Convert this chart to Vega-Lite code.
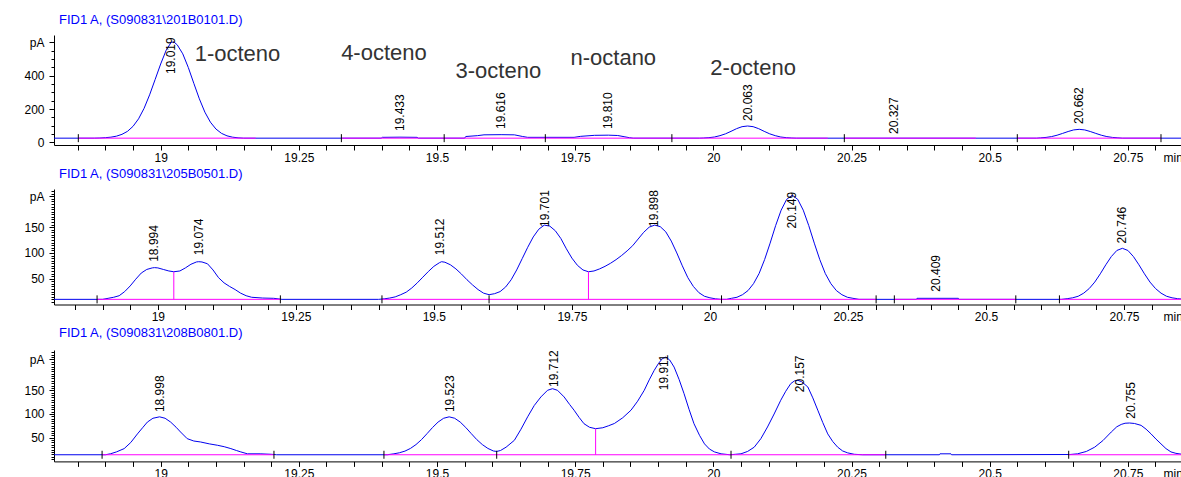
{
"$schema": "https://vega.github.io/schema/vega-lite/v6.json",
"padding": {"left": 23, "top": 13, "right": 0, "bottom": 0},
"background": "white",
"spacing": 4,
"config": {
  "font": "Liberation Sans",
  "view": {"stroke": null},
  "axis": {"grid": false, "domainColor": "#000", "tickColor": "#000", "labelColor": "#000", "labelFontSize": 12, "labelFont": "Liberation Sans", "domainWidth": 1, "tickWidth": 1, "labelOverlap": false, "labelFlush": false, "labelBound": false}
},
"resolve": {"scale": {"x": "independent", "y": "independent"}},
"datasets": {
  "sig1": [
    {"t":18.807,"pA":25},{"t":18.88,"pA":25},{"t":18.89,"pA":26},{"t":18.9,"pA":28},{"t":18.91,"pA":31},{"t":18.92,"pA":37},{"t":18.93,"pA":48},{"t":18.94,"pA":66},{"t":18.95,"pA":96},{"t":18.96,"pA":141},{"t":18.97,"pA":204},{"t":18.98,"pA":285},{"t":18.99,"pA":377},{"t":19.0,"pA":470},{"t":19.01,"pA":553},{"t":19.019,"pA":600},{"t":19.024,"pA":602},{"t":19.03,"pA":585},{"t":19.04,"pA":531},{"t":19.05,"pA":449},{"t":19.06,"pA":354},{"t":19.07,"pA":261},{"t":19.08,"pA":181},{"t":19.09,"pA":121},{"t":19.1,"pA":80},{"t":19.11,"pA":54},{"t":19.12,"pA":39},{"t":19.13,"pA":31},{"t":19.14,"pA":27},{"t":19.15,"pA":25},
    {"t":19.399,"pA":25},{"t":19.401,"pA":30},{"t":19.433,"pA":31},{"t":19.464,"pA":30},{"t":19.466,"pA":25},
    {"t":19.55,"pA":25},{"t":19.552,"pA":35},{"t":19.573,"pA":40},{"t":19.585,"pA":45},{"t":19.616,"pA":46},{"t":19.64,"pA":45},{"t":19.655,"pA":35},{"t":19.664,"pA":30},{"t":19.748,"pA":30},{"t":19.76,"pA":36},{"t":19.785,"pA":42},{"t":19.81,"pA":43},{"t":19.827,"pA":41},{"t":19.84,"pA":33},{"t":19.848,"pA":28},{"t":19.855,"pA":25},
    {"t":19.975,"pA":25},{"t":19.982,"pA":26},{"t":19.992,"pA":28},{"t":20.002,"pA":32},{"t":20.012,"pA":40},{"t":20.022,"pA":51},{"t":20.032,"pA":66},{"t":20.042,"pA":82},{"t":20.052,"pA":94},{"t":20.062,"pA":98},{"t":20.072,"pA":94},{"t":20.082,"pA":82},{"t":20.092,"pA":66},{"t":20.102,"pA":51},{"t":20.112,"pA":40},{"t":20.122,"pA":32},{"t":20.132,"pA":28},{"t":20.142,"pA":26},{"t":20.15,"pA":25},
    {"t":20.585,"pA":25},{"t":20.592,"pA":27},{"t":20.602,"pA":29.5},{"t":20.612,"pA":34.5},{"t":20.622,"pA":42.7},{"t":20.632,"pA":53.6},{"t":20.642,"pA":65},{"t":20.652,"pA":74.5},{"t":20.662,"pA":78},{"t":20.672,"pA":74.5},{"t":20.682,"pA":65},{"t":20.692,"pA":53.6},{"t":20.702,"pA":42.7},{"t":20.712,"pA":34.5},{"t":20.722,"pA":29.5},{"t":20.732,"pA":27},{"t":20.74,"pA":25},{"t":20.848,"pA":25}
  ],
  "sig2": [
    {"t":18.812,"pA":10},{"t":18.9,"pA":10},{"t":18.91,"pA":12},{"t":18.92,"pA":14},{"t":18.93,"pA":17},{"t":18.94,"pA":25},{"t":18.95,"pA":36},{"t":18.96,"pA":49},{"t":18.97,"pA":61},{"t":18.98,"pA":68},{"t":18.99,"pA":71},{"t":18.994,"pA":71.5},{"t":19.0,"pA":71},{"t":19.01,"pA":68},{"t":19.02,"pA":65},{"t":19.029,"pA":63.5},{"t":19.04,"pA":65},{"t":19.05,"pA":71},{"t":19.06,"pA":78},{"t":19.07,"pA":82.5},{"t":19.074,"pA":83},{"t":19.08,"pA":82.5},{"t":19.09,"pA":79},{"t":19.1,"pA":67},{"t":19.11,"pA":52},{"t":19.12,"pA":42},{"t":19.13,"pA":35},{"t":19.14,"pA":29},{"t":19.15,"pA":22},{"t":19.16,"pA":17},{"t":19.17,"pA":14},{"t":19.19,"pA":12.5},{"t":19.21,"pA":12},{"t":19.225,"pA":10},
    {"t":19.4,"pA":10},{"t":19.41,"pA":11},{"t":19.42,"pA":12.5},{"t":19.43,"pA":14.8},{"t":19.44,"pA":19},{"t":19.45,"pA":24},{"t":19.46,"pA":32},{"t":19.47,"pA":42},{"t":19.48,"pA":53},{"t":19.49,"pA":64},{"t":19.5,"pA":74},{"t":19.51,"pA":81},{"t":19.514,"pA":83},{"t":19.52,"pA":82},{"t":19.53,"pA":77},{"t":19.54,"pA":69},{"t":19.55,"pA":59},{"t":19.56,"pA":48},{"t":19.57,"pA":38},{"t":19.58,"pA":29},{"t":19.59,"pA":22},{"t":19.6,"pA":19},{"t":19.61,"pA":21},{"t":19.62,"pA":25},{"t":19.63,"pA":34},{"t":19.64,"pA":48},{"t":19.65,"pA":67},{"t":19.66,"pA":89},{"t":19.67,"pA":111},{"t":19.68,"pA":131},{"t":19.69,"pA":146},{"t":19.7,"pA":154},{"t":19.71,"pA":152},{"t":19.72,"pA":143},{"t":19.73,"pA":128},{"t":19.74,"pA":108},{"t":19.75,"pA":90},{"t":19.76,"pA":76},{"t":19.77,"pA":67},{"t":19.78,"pA":63.5},{"t":19.79,"pA":65},{"t":19.8,"pA":69},{"t":19.81,"pA":74},{"t":19.82,"pA":80},{"t":19.83,"pA":87},{"t":19.84,"pA":95},{"t":19.85,"pA":104},{"t":19.86,"pA":114},{"t":19.87,"pA":127},{"t":19.88,"pA":140},{"t":19.89,"pA":150},{"t":19.9,"pA":154},{"t":19.91,"pA":151},{"t":19.92,"pA":141},{"t":19.93,"pA":123},{"t":19.94,"pA":100},{"t":19.95,"pA":75},{"t":19.96,"pA":52},{"t":19.97,"pA":35},{"t":19.98,"pA":23},{"t":19.99,"pA":16},{"t":20.0,"pA":13},{"t":20.01,"pA":11},{"t":20.02,"pA":10},
    {"t":20.03,"pA":10},{"t":20.039,"pA":12},{"t":20.049,"pA":14},{"t":20.059,"pA":19},{"t":20.069,"pA":27},{"t":20.079,"pA":40.5},{"t":20.089,"pA":60},{"t":20.099,"pA":87},{"t":20.109,"pA":119},{"t":20.119,"pA":153},{"t":20.129,"pA":183},{"t":20.139,"pA":204},{"t":20.149,"pA":212},{"t":20.159,"pA":204},{"t":20.169,"pA":183},{"t":20.179,"pA":153},{"t":20.189,"pA":119},{"t":20.199,"pA":87},{"t":20.209,"pA":60},{"t":20.219,"pA":40.5},{"t":20.229,"pA":27},{"t":20.239,"pA":19},{"t":20.249,"pA":14},{"t":20.259,"pA":12},{"t":20.27,"pA":10},
    {"t":20.374,"pA":10},{"t":20.375,"pA":12},{"t":20.45,"pA":12},{"t":20.451,"pA":10},
    {"t":20.637,"pA":10},{"t":20.647,"pA":11.3},{"t":20.657,"pA":13},{"t":20.667,"pA":16},{"t":20.677,"pA":22},{"t":20.687,"pA":31},{"t":20.697,"pA":43.5},{"t":20.707,"pA":59.5},{"t":20.717,"pA":77},{"t":20.727,"pA":93},{"t":20.737,"pA":104.8},{"t":20.747,"pA":109},{"t":20.757,"pA":104.8},{"t":20.767,"pA":93},{"t":20.777,"pA":77},{"t":20.787,"pA":59.5},{"t":20.797,"pA":43.5},{"t":20.807,"pA":31},{"t":20.817,"pA":22},{"t":20.827,"pA":16},{"t":20.837,"pA":13},{"t":20.847,"pA":11.3},{"t":20.855,"pA":10.5}
  ],
  "sig3": [
    {"t":18.807,"pA":14},{"t":18.9,"pA":14},{"t":18.909,"pA":16},{"t":18.92,"pA":20},{"t":18.934,"pA":27},{"t":18.946,"pA":40},{"t":18.958,"pA":58},{"t":18.968,"pA":72},{"t":18.976,"pA":83},{"t":18.986,"pA":91},{"t":18.998,"pA":94},{"t":19.008,"pA":91},{"t":19.018,"pA":83},{"t":19.028,"pA":72},{"t":19.036,"pA":62},{"t":19.048,"pA":48},{"t":19.06,"pA":43},{"t":19.072,"pA":41},{"t":19.088,"pA":37},{"t":19.103,"pA":34},{"t":19.115,"pA":31},{"t":19.127,"pA":27},{"t":19.137,"pA":23},{"t":19.145,"pA":20},{"t":19.157,"pA":16},{"t":19.18,"pA":16},{"t":19.2,"pA":15},{"t":19.21,"pA":14},
    {"t":19.41,"pA":14},{"t":19.422,"pA":16},{"t":19.432,"pA":18.2},{"t":19.442,"pA":21.7},{"t":19.452,"pA":27.4},{"t":19.462,"pA":35.5},{"t":19.472,"pA":46},{"t":19.482,"pA":58.6},{"t":19.492,"pA":71.6},{"t":19.502,"pA":83},{"t":19.512,"pA":91},{"t":19.522,"pA":94},{"t":19.532,"pA":91},{"t":19.542,"pA":83},{"t":19.552,"pA":71.6},{"t":19.562,"pA":58.6},{"t":19.572,"pA":46},{"t":19.582,"pA":35.5},{"t":19.592,"pA":27.4},{"t":19.602,"pA":22},{"t":19.608,"pA":21},{"t":19.615,"pA":23},{"t":19.625,"pA":30},{"t":19.64,"pA":44.5},{"t":19.652,"pA":68},{"t":19.664,"pA":94},{"t":19.676,"pA":118},{"t":19.688,"pA":136},{"t":19.7,"pA":150},{"t":19.709,"pA":153.4},{"t":19.718,"pA":150},{"t":19.73,"pA":136},{"t":19.74,"pA":120},{"t":19.748,"pA":108},{"t":19.757,"pA":93},{"t":19.766,"pA":79.5},{"t":19.776,"pA":72},{"t":19.787,"pA":69},{"t":19.8,"pA":71},{"t":19.81,"pA":75},{"t":19.821,"pA":80},{"t":19.836,"pA":92},{"t":19.851,"pA":108},{"t":19.863,"pA":127},{"t":19.875,"pA":150},{"t":19.884,"pA":172},{"t":19.893,"pA":192},{"t":19.901,"pA":207},{"t":19.908,"pA":217},{"t":19.914,"pA":220},{"t":19.921,"pA":214},{"t":19.929,"pA":199},{"t":19.938,"pA":173},{"t":19.947,"pA":143},{"t":19.956,"pA":110},{"t":19.965,"pA":79.5},{"t":19.975,"pA":55},{"t":19.984,"pA":37},{"t":19.993,"pA":26},{"t":20.002,"pA":20},{"t":20.014,"pA":16},{"t":20.03,"pA":14},
    {"t":20.04,"pA":15},{"t":20.05,"pA":16},{"t":20.062,"pA":21},{"t":20.074,"pA":30},{"t":20.086,"pA":48},{"t":20.098,"pA":72.6},{"t":20.11,"pA":100},{"t":20.122,"pA":129},{"t":20.131,"pA":148},{"t":20.14,"pA":164},{"t":20.147,"pA":170},{"t":20.153,"pA":171},{"t":20.16,"pA":168},{"t":20.171,"pA":157},{"t":20.18,"pA":134},{"t":20.189,"pA":108},{"t":20.198,"pA":82},{"t":20.207,"pA":58},{"t":20.216,"pA":42},{"t":20.225,"pA":30},{"t":20.234,"pA":22},{"t":20.243,"pA":18},{"t":20.255,"pA":15},{"t":20.27,"pA":14},
    {"t":20.409,"pA":14},{"t":20.41,"pA":16},{"t":20.43,"pA":16},{"t":20.431,"pA":14},
    {"t":20.645,"pA":14.5},{"t":20.659,"pA":16},{"t":20.675,"pA":21},{"t":20.69,"pA":30},{"t":20.705,"pA":44},{"t":20.72,"pA":62},{"t":20.73,"pA":73},{"t":20.738,"pA":78},{"t":20.745,"pA":80.5},{"t":20.753,"pA":81},{"t":20.762,"pA":80},{"t":20.774,"pA":76},{"t":20.783,"pA":68},{"t":20.792,"pA":58},{"t":20.801,"pA":47},{"t":20.81,"pA":37},{"t":20.819,"pA":27},{"t":20.828,"pA":20},{"t":20.837,"pA":17},{"t":20.848,"pA":15}
  ],
  "seg1": [{"t1":18.851,"t2":19.172,"pA":25},{"t1":19.327,"t2":20.207,"pA":25},{"t1":20.237,"t2":20.475,"pA":25},{"t1":20.55,"t2":20.81,"pA":25}],
  "seg2": [{"t1":18.89,"t2":19.222,"pA":10},{"t1":19.406,"t2":20.301,"pA":10},{"t1":20.334,"t2":20.554,"pA":10},{"t1":20.633,"t2":20.855,"pA":10}],
  "seg3": [{"t1":18.894,"t2":19.205,"pA":14},{"t1":19.404,"t2":20.312,"pA":14},{"t1":20.643,"t2":20.848,"pA":14}],
  "mk1": [{"t":18.851,"pA":25},{"t":19.327,"pA":25},{"t":19.513,"pA":25},{"t":19.696,"pA":25},{"t":19.925,"pA":25},{"t":20.237,"pA":25},{"t":20.55,"pA":25},{"t":20.81,"pA":25}],
  "mk2": [{"t":18.89,"pA":10},{"t":19.222,"pA":10},{"t":19.406,"pA":10},{"t":19.6,"pA":10},{"t":20.021,"pA":10},{"t":20.301,"pA":10},{"t":20.334,"pA":10},{"t":20.554,"pA":10},{"t":20.633,"pA":10}],
  "mk3": [{"t":18.894,"pA":14},{"t":19.205,"pA":14},{"t":19.404,"pA":14},{"t":19.608,"pA":14},{"t":20.032,"pA":14},{"t":20.312,"pA":14},{"t":20.643,"pA":14}],
  "drop2": [{"t":19.029,"lo":10,"hi":63.5},{"t":19.78,"lo":10,"hi":63.5}],
  "drop3": [{"t":19.787,"lo":14,"hi":69}],
  "lab1": [{"rt":19.019,"y":410,"label":"19.019"},{"rt":19.433,"y":68,"label":"19.433"},{"rt":19.616,"y":80,"label":"19.616"},{"rt":19.81,"y":80,"label":"19.810"},{"rt":20.063,"y":128,"label":"20.063"},{"rt":20.327,"y":50,"label":"20.327"},{"rt":20.662,"y":110,"label":"20.662"}],
  "lab2": [{"rt":18.994,"y":82.8,"label":"18.994"},{"rt":19.074,"y":95.7,"label":"19.074"},{"rt":19.512,"y":95.7,"label":"19.512"},{"rt":19.701,"y":150.5,"label":"19.701"},{"rt":19.898,"y":150.5,"label":"19.898"},{"rt":20.149,"y":147.4,"label":"20.149"},{"rt":20.409,"y":24.8,"label":"20.409"},{"rt":20.746,"y":118.4,"label":"20.746"}],
  "lab3": [{"rt":18.998,"y":104,"label":"18.998"},{"rt":19.523,"y":104,"label":"19.523"},{"rt":19.712,"y":157,"label":"19.712"},{"rt":19.911,"y":150,"label":"19.911"},{"rt":20.157,"y":146,"label":"20.157"},{"rt":20.755,"y":90,"label":"20.755"}],
  "names": [{"name":"1-octeno","t":19.139,"pA":488},{"name":"4-octeno","t":19.404,"pA":494},{"name":"3-octeno","t":19.611,"pA":386},{"name":"n-octano","t":19.819,"pA":464},{"name":"2-octeno","t":20.072,"pA":404}]
},
"vconcat": [
  {
    "width": 1128, "height": 110,
    "title": {"text": "FID1 A, (S090831\\201B0101.D)", "anchor": "start", "frame": "group", "dx": 5, "offset": -1.5, "baseline": "alphabetic", "fontSize": 13, "fontWeight": "normal", "color": "#0000ff", "font": "Liberation Sans"},
    "resolve": {"axis": {"x": "independent", "y": "independent"}},
    "layer": [
      {"data": {"name": "sig1"}, "mark": {"type": "line", "color": "#0000ee", "strokeWidth": 1, "clip": true},
       "encoding": {
         "x": {"field": "t", "type": "quantitative", "scale": {"domain": [18.807, 20.848], "nice": false, "zero": false},
               "axis": {"orient": "bottom", "title": "min", "titleX": 1109, "titleY": 7, "titleAlign": "left", "titleBaseline": "top", "titleAngle": 0, "titleFontSize": 12, "titleFontWeight": "normal", "titleColor": "#000", "titleFont": "Liberation Sans", "labelOverlap": false,
                        "values": [19,19.25,19.5,19.75,20,20.25,20.5,20.75], "labelExpr": "format(datum.value, '.2~f')", "tickSize": 5, "labelPadding": 2}},
         "y": {"field": "pA", "type": "quantitative", "scale": {"domain": [-16, 644], "nice": false, "zero": false},
               "axis": {"orient": "left", "title": null, "labelOverlap": false, "values": [0,200,400,600],
                        "labelExpr": "datum.value === 600 ? 'pA' : datum.label", "tickSize": 5, "labelPadding": 5}}
       }},
      {"data": {"name": "seg1"}, "mark": {"type": "rule", "color": "#ff00ff", "strokeWidth": 1},
       "encoding": {
         "x": {"field": "t1", "type": "quantitative", "axis": {"orient": "bottom", "title": null, "labels": false, "domain": false, "tickSize": 5, "values": [18.85,18.9,18.95,19.05,19.1,19.15,19.2,19.3,19.35,19.4,19.45,19.55,19.6,19.65,19.7,19.8,19.85,19.9,19.95,20.05,20.1,20.15,20.2,20.3,20.35,20.4,20.45,20.55,20.6,20.65,20.7,20.8]}},
         "x2": {"field": "t2"},
         "y": {"field": "pA", "type": "quantitative", "axis": {"orient": "left", "title": null, "labels": false, "domain": false, "tickSize": 3, "values": [50,100,150,250,300,350,450,500,550]}}}},
      {"data": {"name": "mk1"}, "mark": {"type": "point", "shape": "M0,-1L0,1", "size": 64, "filled": false, "stroke": "#000", "strokeWidth": 1, "opacity": 1},
       "encoding": {"x": {"field": "t", "type": "quantitative", "axis": null}, "y": {"field": "pA", "type": "quantitative", "axis": null}}},
      {"data": {"name": "lab1"}, "mark": {"type": "text", "angle": 270, "align": "left", "baseline": "middle", "fontSize": 12, "color": "#000"},
       "encoding": {"x": {"field": "rt", "type": "quantitative", "axis": null}, "y": {"field": "y", "type": "quantitative", "axis": null}, "text": {"field": "label"}}},
      {"data": {"name": "names"}, "mark": {"type": "text", "align": "center", "baseline": "alphabetic", "fontSize": 22, "color": "#333333"},
       "encoding": {"x": {"field": "t", "type": "quantitative", "axis": null}, "y": {"field": "pA", "type": "quantitative", "axis": null}, "text": {"field": "name"}}}
    ]
  },
  {
    "width": 1128, "height": 115.5,
    "title": {"text": "FID1 A, (S090831\\205B0501.D)", "anchor": "start", "frame": "group", "dx": 5, "offset": -1.5, "baseline": "alphabetic", "fontSize": 13, "fontWeight": "normal", "color": "#0000ff", "font": "Liberation Sans"},
    "resolve": {"axis": {"x": "independent", "y": "independent"}},
    "layer": [
      {"data": {"name": "sig2"}, "mark": {"type": "line", "color": "#0000ee", "strokeWidth": 1, "clip": true},
       "encoding": {
         "x": {"field": "t", "type": "quantitative", "scale": {"domain": [18.812, 20.855], "nice": false, "zero": false},
               "axis": {"orient": "bottom", "title": "min", "titleX": 1109, "titleY": 7, "titleAlign": "left", "titleBaseline": "top", "titleAngle": 0, "titleFontSize": 12, "titleFontWeight": "normal", "titleColor": "#000", "titleFont": "Liberation Sans", "labelOverlap": false,
                        "values": [19,19.25,19.5,19.75,20,20.25,20.5,20.75], "labelExpr": "format(datum.value, '.2~f')", "tickSize": 5, "labelPadding": 2}},
         "y": {"field": "pA", "type": "quantitative", "scale": {"domain": [0, 224], "nice": false, "zero": false},
               "axis": {"orient": "left", "title": null, "labelOverlap": false, "values": [50,100,150,210],
                        "labelExpr": "datum.value === 210 ? 'pA' : datum.label", "tickSize": 5, "labelPadding": 5}}
       }},
      {"data": {"name": "seg2"}, "mark": {"type": "rule", "color": "#ff00ff", "strokeWidth": 1},
       "encoding": {
         "x": {"field": "t1", "type": "quantitative", "axis": {"orient": "bottom", "title": null, "labels": false, "domain": false, "tickSize": 5, "values": [18.85,18.9,18.95,19.05,19.1,19.15,19.2,19.3,19.35,19.4,19.45,19.55,19.6,19.65,19.7,19.8,19.85,19.9,19.95,20.05,20.1,20.15,20.2,20.3,20.35,20.4,20.45,20.55,20.6,20.65,20.7,20.8]}},
         "x2": {"field": "t2"},
         "y": {"field": "pA", "type": "quantitative", "axis": {"orient": "left", "title": null, "labels": false, "domain": false, "tickSize": 3, "values": [5,10,15,20,25,30,35,40,45,55,60,65,70,75,80,85,90,95,105,110,115,120,125,130,135,140,145,155,160,165,170,175,180,185,190,195,200,205,215,220]}}}},
      {"data": {"name": "drop2"}, "mark": {"type": "rule", "color": "#ff00ff", "strokeWidth": 1},
       "encoding": {"x": {"field": "t", "type": "quantitative", "axis": null}, "y": {"field": "lo", "type": "quantitative", "axis": null}, "y2": {"field": "hi"}}},
      {"data": {"name": "mk2"}, "mark": {"type": "point", "shape": "M0,-1L0,1", "size": 64, "filled": false, "stroke": "#000", "strokeWidth": 1, "opacity": 1},
       "encoding": {"x": {"field": "t", "type": "quantitative", "axis": null}, "y": {"field": "pA", "type": "quantitative", "axis": null}}},
      {"data": {"name": "lab2"}, "mark": {"type": "text", "angle": 270, "align": "left", "baseline": "middle", "fontSize": 12, "color": "#000"},
       "encoding": {"x": {"field": "rt", "type": "quantitative", "axis": null}, "y": {"field": "y", "type": "quantitative", "axis": null}, "text": {"field": "label"}}}
    ]
  },
  {
    "width": 1128, "height": 111.4,
    "title": {"text": "FID1 A, (S090831\\208B0801.D)", "anchor": "start", "frame": "group", "dx": 5, "offset": 0, "baseline": "alphabetic", "fontSize": 13, "fontWeight": "normal", "color": "#0000ff", "font": "Liberation Sans"},
    "resolve": {"axis": {"x": "independent", "y": "independent"}},
    "layer": [
      {"data": {"name": "sig3"}, "mark": {"type": "line", "color": "#0000ee", "strokeWidth": 1, "clip": true},
       "encoding": {
         "x": {"field": "t", "type": "quantitative", "scale": {"domain": [18.807, 20.848], "nice": false, "zero": false},
               "axis": {"orient": "bottom", "title": "min", "titleX": 1109, "titleY": 7, "titleAlign": "left", "titleBaseline": "top", "titleAngle": 0, "titleFontSize": 12, "titleFontWeight": "normal", "titleColor": "#000", "titleFont": "Liberation Sans", "labelOverlap": false,
                        "values": [19,19.25,19.5,19.75,20,20.25,20.5,20.75], "labelExpr": "format(datum.value, '.2~f')", "tickSize": 5, "labelPadding": 2}},
         "y": {"field": "pA", "type": "quantitative", "scale": {"domain": [0, 235], "nice": false, "zero": false},
               "axis": {"orient": "left", "title": null, "labelOverlap": false, "values": [50,100,150,215],
                        "labelExpr": "datum.value === 215 ? 'pA' : datum.label", "tickSize": 5, "labelPadding": 5}}
       }},
      {"data": {"name": "seg3"}, "mark": {"type": "rule", "color": "#ff00ff", "strokeWidth": 1},
       "encoding": {
         "x": {"field": "t1", "type": "quantitative", "axis": {"orient": "bottom", "title": null, "labels": false, "domain": false, "tickSize": 5, "values": [18.85,18.9,18.95,19.05,19.1,19.15,19.2,19.3,19.35,19.4,19.45,19.55,19.6,19.65,19.7,19.8,19.85,19.9,19.95,20.05,20.1,20.15,20.2,20.3,20.35,20.4,20.45,20.55,20.6,20.65,20.7,20.8]}},
         "x2": {"field": "t2"},
         "y": {"field": "pA", "type": "quantitative", "axis": {"orient": "left", "title": null, "labels": false, "domain": false, "tickSize": 3, "values": [5,10,15,20,25,30,35,40,45,55,60,65,70,75,80,85,90,95,105,110,115,120,125,130,135,140,145,155,160,165,170,175,180,185,190,195,200,205,210,220,225,230]}}}},
      {"data": {"name": "drop3"}, "mark": {"type": "rule", "color": "#ff00ff", "strokeWidth": 1},
       "encoding": {"x": {"field": "t", "type": "quantitative", "axis": null}, "y": {"field": "lo", "type": "quantitative", "axis": null}, "y2": {"field": "hi"}}},
      {"data": {"name": "mk3"}, "mark": {"type": "point", "shape": "M0,-1L0,1", "size": 64, "filled": false, "stroke": "#000", "strokeWidth": 1, "opacity": 1},
       "encoding": {"x": {"field": "t", "type": "quantitative", "axis": null}, "y": {"field": "pA", "type": "quantitative", "axis": null}}},
      {"data": {"name": "lab3"}, "mark": {"type": "text", "angle": 270, "align": "left", "baseline": "middle", "fontSize": 12, "color": "#000"},
       "encoding": {"x": {"field": "rt", "type": "quantitative", "axis": null}, "y": {"field": "y", "type": "quantitative", "axis": null}, "text": {"field": "label"}}}
    ]
  }
]
}
